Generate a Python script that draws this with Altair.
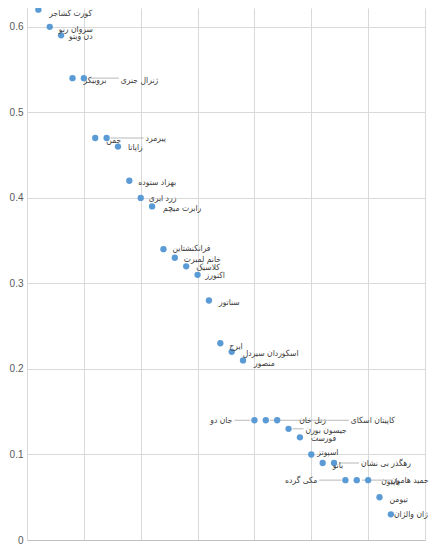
import altair as alt
import pandas as pd

names = [
    "کورت کشاجر", "سروان رنو", "دن ویتو", "بروبیکر", "ژنرال جنری",
    "جمن", "پیرمرد", "زاپاتا", "بهزاد ستوده", "زرد ابری",
    "رابرت میچم", "فرانکنشتاین", "خانم لمبرت", "کلاسیک", "اکتورز",
    "سناتور", "ایرج", "اسکوردان سیردل", "منصور", "جان دو",
    "کاپیتان اسکای", "زنل خان", "جیسون بورن", "فورست", "اسپوتز",
    "بانو", "رهگذر بی نشان", "مکی گرده", "حمید هامون", "پاپیون",
    "تیومن", "ژان والژان",
]
rank = [1, 2, 3, 4, 5, 6, 7, 8, 9, 10, 11, 12, 13, 14, 15, 16,
        17, 18, 19, 20, 21, 22, 23, 24, 25, 26, 27, 28, 29, 30, 31, 32]
values = [0.62, 0.60, 0.59, 0.54, 0.54, 0.47, 0.47, 0.46, 0.42, 0.40,
          0.39, 0.34, 0.33, 0.32, 0.31, 0.28, 0.23, 0.22, 0.21, 0.14,
          0.14, 0.14, 0.13, 0.12, 0.10, 0.09, 0.09, 0.07, 0.07, 0.07,
          0.05, 0.03]
y_ticks = [0, 0.1, 0.2, 0.3, 0.4, 0.5, 0.6]
x_grid = [0, 5, 10, 15, 20, 25, 30, 35]

# label placement style per point: (dx, dy, align, leader start, leader end) in pixels
label_style = [
    (11, 3, "left", None, None), (9, 2, "left", None, None), (8, 1, "left", None, None),
    (11, 2, "left", None, None), (37, 2, "left", 6, 35), (11, 2, "left", None, None),
    (39, 0, "left", 4, 37), (10, 0, "left", None, None), (9, 1, "left", None, None),
    (8, 0, "left", None, None), (11, 2, "left", None, None), (9, -1, "left", None, None),
    (9, 1, "left", None, None), (10, 1, "left", None, None), (8, 0, "left", None, None),
    (10, 1, "left", None, None), (9, 3, "left", None, None), (11, 1, "left", None, None),
    (11, 3, "left", None, None), (-22, 0, "right", -20, -4), (85, 0, "left", 4, 83),
    (22, 0, "left", None, None), (17, 1, "left", 4, 15), (11, 1, "left", None, None),
    (6, -2, "left", None, None), (10, 2, "left", None, None), (27, 0, "left", 5, 25),
    (-28, 0, "right", -26, -4), (72, 0, "right", 5, 36), (13, 1, "left", None, None),
    (10, 2, "left", None, None), (37, 0, "right", None, None),
]

df = pd.DataFrame({"idx": list(range(len(names))), "name": names, "rank": rank, "value": values})

x_enc = alt.X("rank:Q", scale=alt.Scale(domain=[0, 35], nice=False, zero=False),
              axis=alt.Axis(values=x_grid, labels=False, ticks=False, title=None,
                            domainColor="#bfbfbf", gridColor="#d9d9d9", grid=True))
y_enc = alt.Y("value:Q", scale=alt.Scale(domain=[0, 0.622], nice=False),
              axis=alt.Axis(values=y_ticks, format=".1~f", ticks=False, title=None,
                            domainColor="#d9d9d9", gridColor="#d9d9d9", grid=True,
                            labelColor="#595959", labelFontSize=10, labelPadding=4,
                            labelFont="Liberation Sans"))

base = alt.Chart(df)
points = base.mark_circle(size=40, color="#5B9BD5", opacity=1).encode(x=x_enc, y=y_enc)

layers = []
for i, (dx, dy, align, l0, l1) in enumerate(label_style):
    if l0 is not None:
        layers.append(
            base.transform_filter(alt.datum.idx == i)
            .mark_rule(xOffset=l0, x2Offset=l1, color="#a6a6a6", strokeWidth=0.8)
            .encode(x=x_enc, x2="rank:Q", y=y_enc)
        )
layers.append(points)
for i, (dx, dy, align, l0, l1) in enumerate(label_style):
    layers.append(
        base.transform_filter(alt.datum.idx == i)
        .mark_text(dx=dx, dy=dy, align=align, baseline="middle", fontSize=8.5,
                   font="DejaVu Sans Condensed", color="#404040")
        .encode(x=x_enc, y=y_enc, text="name:N")
    )

chart = alt.layer(*layers).properties(
    width=398, height=532,
    autosize=alt.AutoSizeParams(type="none"),
    padding={"left": 19, "top": 0, "right": 6, "bottom": 6},
).configure_view(strokeWidth=0)

chart.save("out.html", embed_options={"renderer": "svg", "actions": False})
